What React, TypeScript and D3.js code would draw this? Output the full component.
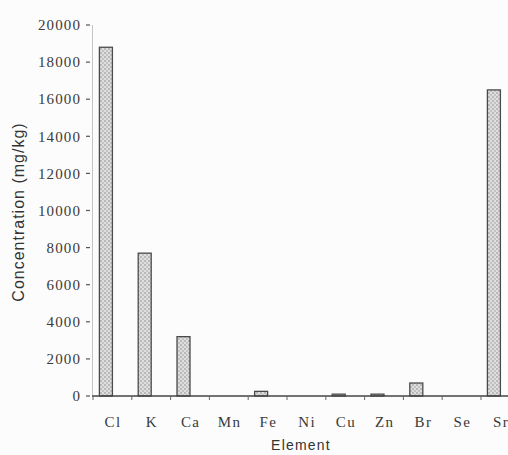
import * as d3 from "d3";
import React from "react";

// Datos (mg/kg)
const elements = ["Cl", "K", "Ca", "Mn", "Fe", "Ni", "Cu", "Zn", "Br", "Se", "Sr"];
const concentration = [18800, 7700, 3200, 0, 250, 0, 100, 100, 700, 0, 16500];
const yTicks = [0, 2000, 4000, 6000, 8000, 10000, 12000, 14000, 16000, 18000, 20000];

const width = 508;
const height = 455;
const serif = "'Liberation Serif', 'Times New Roman', serif";
const sans = "'Liberation Sans', Arial, sans-serif";

function App() {
  const x = d3
    .scaleBand()
    .domain(elements)
    .range([93, 93 + 11 * 38.8])
    .padding(0);

  const y = d3.scaleLinear().domain([0, 20000]).range([396, 25]);

  // Excel deja la barra a la izquierda del centro de la categoria
  const barW = x.bandwidth() * 0.335;
  const boundaries = d3.range(elements.length + 1).map((i) => 93 + i * x.step());

  return (
    <svg
      width={width}
      height={height}
      style={{ position: "absolute", left: 0, top: 0, background: "#fcfcfc" }}
    >
      <defs>
        <pattern id="dots" width="4" height="4" patternUnits="userSpaceOnUse">
          <rect width="4" height="4" fill="#dedede" />
          <circle cx="1" cy="1" r="0.9" fill="#a8a8a8" />
          <circle cx="3" cy="3" r="0.9" fill="#b4b4b4" />
        </pattern>
      </defs>

      {/* eje y */}
      <line x1={92.5} x2={92.5} y1={y(20000)} y2={y(0)} stroke="#c4c4c4" strokeWidth={1} />
      {yTicks.map((t) => (
        <g key={t}>
          <line x1={86} x2={90} y1={y(t)} y2={y(t)} stroke="#555" strokeWidth={1.2} />
          <text
            x={81}
            y={y(t)}
            dy="0.35em"
            textAnchor="end"
            fontFamily={serif}
            fontSize={15}
            letterSpacing={1.1}
            fill="#3a3a3a"
          >
            {t}
          </text>
        </g>
      ))}

      {/* barras */}
      {elements.map((e, i) => {
        const v = concentration[i];
        if (v <= 0) return null;
        const cx = (x(e) as number) + x.bandwidth() / 2;
        return (
          <rect
            key={e}
            x={cx - barW}
            y={y(v)}
            width={barW}
            height={y(0) - y(v)}
            fill="url(#dots)"
            stroke="#4a4a4a"
            strokeWidth={1.3}
          />
        );
      })}

      {/* eje x */}
      <line x1={92} x2={width} y1={y(0)} y2={y(0)} stroke="#444" strokeWidth={1.3} />
      {boundaries.map((b, i) => (
        <line key={i} x1={b} x2={b} y1={y(0)} y2={y(0) + 4} stroke="#666" strokeWidth={1} />
      ))}
      {elements.map((e) => (
        <text
          key={e}
          x={(x(e) as number) + x.bandwidth() / 2 + 0.7}
          y={427}
          textAnchor="middle"
          fontFamily={serif}
          fontSize={15}
          letterSpacing={1.4}
          fill="#3a3a3a"
        >
          {e}
        </text>
      ))}

      <text
        x={301}
        y={450}
        textAnchor="middle"
        fontFamily={sans}
        fontSize={14}
        letterSpacing={1.2}
        fill="#333"
      >
        Element
      </text>
      <text
        transform={`translate(23.5, 212) rotate(-90)`}
        textAnchor="middle"
        fontFamily={sans}
        fontSize={16}
        letterSpacing={1}
        fill="#333"
      >
        Concentration (mg/kg)
      </text>
    </svg>
  );
}

export default App;
